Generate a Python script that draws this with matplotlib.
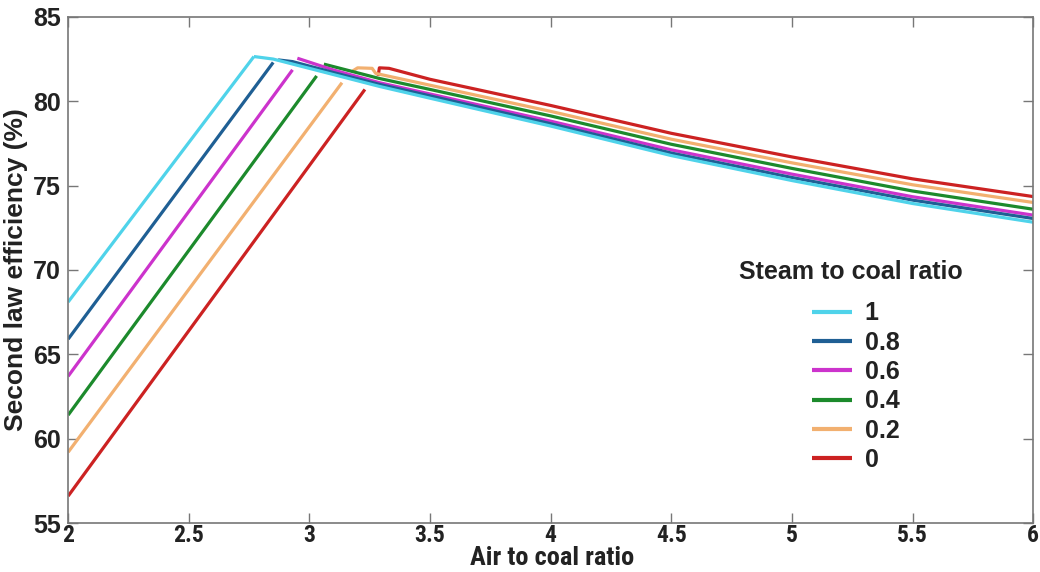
import matplotlib
matplotlib.use("Agg")
import matplotlib.pyplot as plt
from matplotlib import font_manager as fm

# Steam-to-coal ratio series (legend order)
ratios = ["1", "0.8", "0.6", "0.4", "0.2", "0"]
colors = ["#4fd3ea", "#1f5f94", "#cc33cc", "#1c8a2c", "#f2b070", "#cc2222"]

# Rising branch (air/coal from 2 up to the efficiency peak)
rise_x = {
    "1":   [2.0, 2.77],
    "0.8": [2.0, 2.85],
    "0.6": [2.0, 2.93],
    "0.4": [2.0, 3.03],
    "0.2": [2.0, 3.135],
    "0":   [2.0, 3.23],
}
rise_y = {
    "1":   [68.1, 82.65],
    "0.8": [65.9, 82.3],
    "0.6": [63.7, 81.86],
    "0.4": [61.4, 81.5],
    "0.2": [59.2, 81.1],
    "0":   [56.6, 80.7],
}

# Falling branch (past the peak up to air/coal = 6)
fall_x = {
    "1":   [2.77, 2.85, 3.29, 3.5, 4.0, 4.5, 5.0, 5.5, 6.0],
    "0.8": [2.87, 2.93, 3.1, 3.29, 3.5, 4.0, 4.5, 5.0, 5.5, 6.0],
    "0.6": [2.95, 3.1, 3.29, 3.5, 4.0, 4.5, 5.0, 5.5, 6.0],
    "0.4": [3.06, 3.29, 3.5, 4.0, 4.5, 5.0, 5.5, 6.0],
    "0.2": [3.18, 3.20, 3.26, 3.275, 3.5, 4.0, 4.5, 5.0, 5.5, 6.0],
    "0":   [3.285, 3.29, 3.33, 3.5, 4.0, 4.5, 5.0, 5.5, 6.0],
}
fall_y = {
    "1":   [82.65, 82.5, 80.88, 80.18, 78.53, 76.78, 75.3, 73.94, 72.83],
    "0.8": [82.45, 82.35, 81.7, 81.0, 80.32, 78.67, 76.93, 75.48, 74.14, 73.05],
    "0.6": [82.55, 81.85, 81.1, 80.43, 78.82, 77.12, 75.68, 74.34, 73.25],
    "0.4": [82.2, 81.35, 80.7, 79.13, 77.45, 76.02, 74.68, 73.6],
    "0.2": [81.8, 81.98, 81.95, 81.65, 80.95, 79.4, 77.75, 76.35, 75.05, 74.0],
    "0":   [81.5, 81.98, 81.95, 81.3, 79.75, 78.1, 76.7, 75.4, 74.35],
}

x_ticks = [2, 2.5, 3, 3.5, 4, 4.5, 5, 5.5, 6]
x_tick_labels = ["2", "2.5", "3", "3.5", "4", "4.5", "5", "5.5", "6"]
y_ticks = [55, 60, 65, 70, 75, 80, 85]

# Pick a narrow sans face for the x axis if one is installed
installed = {f.name for f in fm.fontManager.ttflist}
narrow_stretch = "normal"
narrow = None
for cand in ["Liberation Sans Narrow", "Arial Narrow", "Roboto Condensed",
             "Open Sans Condensed", "DejaVu Sans Condensed"]:
    if cand in installed:
        narrow = [cand, "Liberation Sans", "DejaVu Sans"]
        break
if narrow is None:
    if any(f.name == "DejaVu Sans" and f.stretch == "condensed" for f in fm.fontManager.ttflist):
        narrow = ["DejaVu Sans"]
        narrow_stretch = "condensed"
    else:
        narrow = ["Liberation Sans", "DejaVu Sans"]
regular = ["Liberation Sans", "DejaVu Sans"]

fig = plt.figure(figsize=(10.4, 5.72), dpi=100)
ax = fig.add_axes([0.0655, 0.0855, 0.928, 0.885])

# Falling branches first so the rising ones sit on top at the peaks
for r, c in zip(ratios[::-1], colors[::-1]):
    ax.plot(fall_x[r], fall_y[r], color=c, lw=2.3, solid_capstyle="butt")
for r, c in zip(ratios, colors):
    ax.plot(rise_x[r], rise_y[r], color=c, lw=2.3, solid_capstyle="butt", label=r)

ax.set_xlim(2, 6)
ax.set_ylim(55, 85)
ax.set_xticks(x_ticks)
ax.set_xticklabels(x_tick_labels, fontfamily=narrow, fontstretch=narrow_stretch,
                   fontweight="bold", fontsize=17)
ax.set_yticks(y_ticks)
for lab in ax.get_yticklabels():
    lab.set_fontfamily(regular)
    lab.set_fontweight("bold")
    lab.set_fontsize(18)

ax.tick_params(direction="in", length=7, width=1, color="#777777",
               top=True, right=True, labelcolor="#222222")
ax.tick_params(axis="x", pad=1)
ax.tick_params(axis="y", pad=5)
for s in ax.spines.values():
    s.set_color("#777777")
    s.set_linewidth(1.2)

ax.set_xlabel("Air to coal ratio", fontfamily=narrow, fontstretch=narrow_stretch,
              fontweight="bold", fontsize=19, color="#222222")
ax.xaxis.set_label_coords((552 - 68) / 966, -(546 - 523) / 506)
ax.set_ylabel("Second law efficiency (%)", fontfamily=regular, fontweight="bold",
              fontsize=19, color="#222222", labelpad=4)

fig.text(851 / 1040, 1 - 272 / 572, "Steam to coal ratio", ha="center", va="center",
         fontfamily=regular, fontweight="bold", fontsize=18, color="#222222")
leg = ax.legend(frameon=False,
                loc="upper center", bbox_to_anchor=(856 / 1040, 1 - 284 / 572),
                bbox_transform=fig.transFigure,
                prop={"family": regular, "weight": "bold", "size": 18},
                handlelength=1.6, handletextpad=0.5, labelspacing=0.21,
                borderpad=0.2)
for t in leg.get_texts():
    t.set_color("#222222")
for h in leg.legend_handles:
    h.set_linewidth(3)

fig.savefig("out.png", dpi=100)
